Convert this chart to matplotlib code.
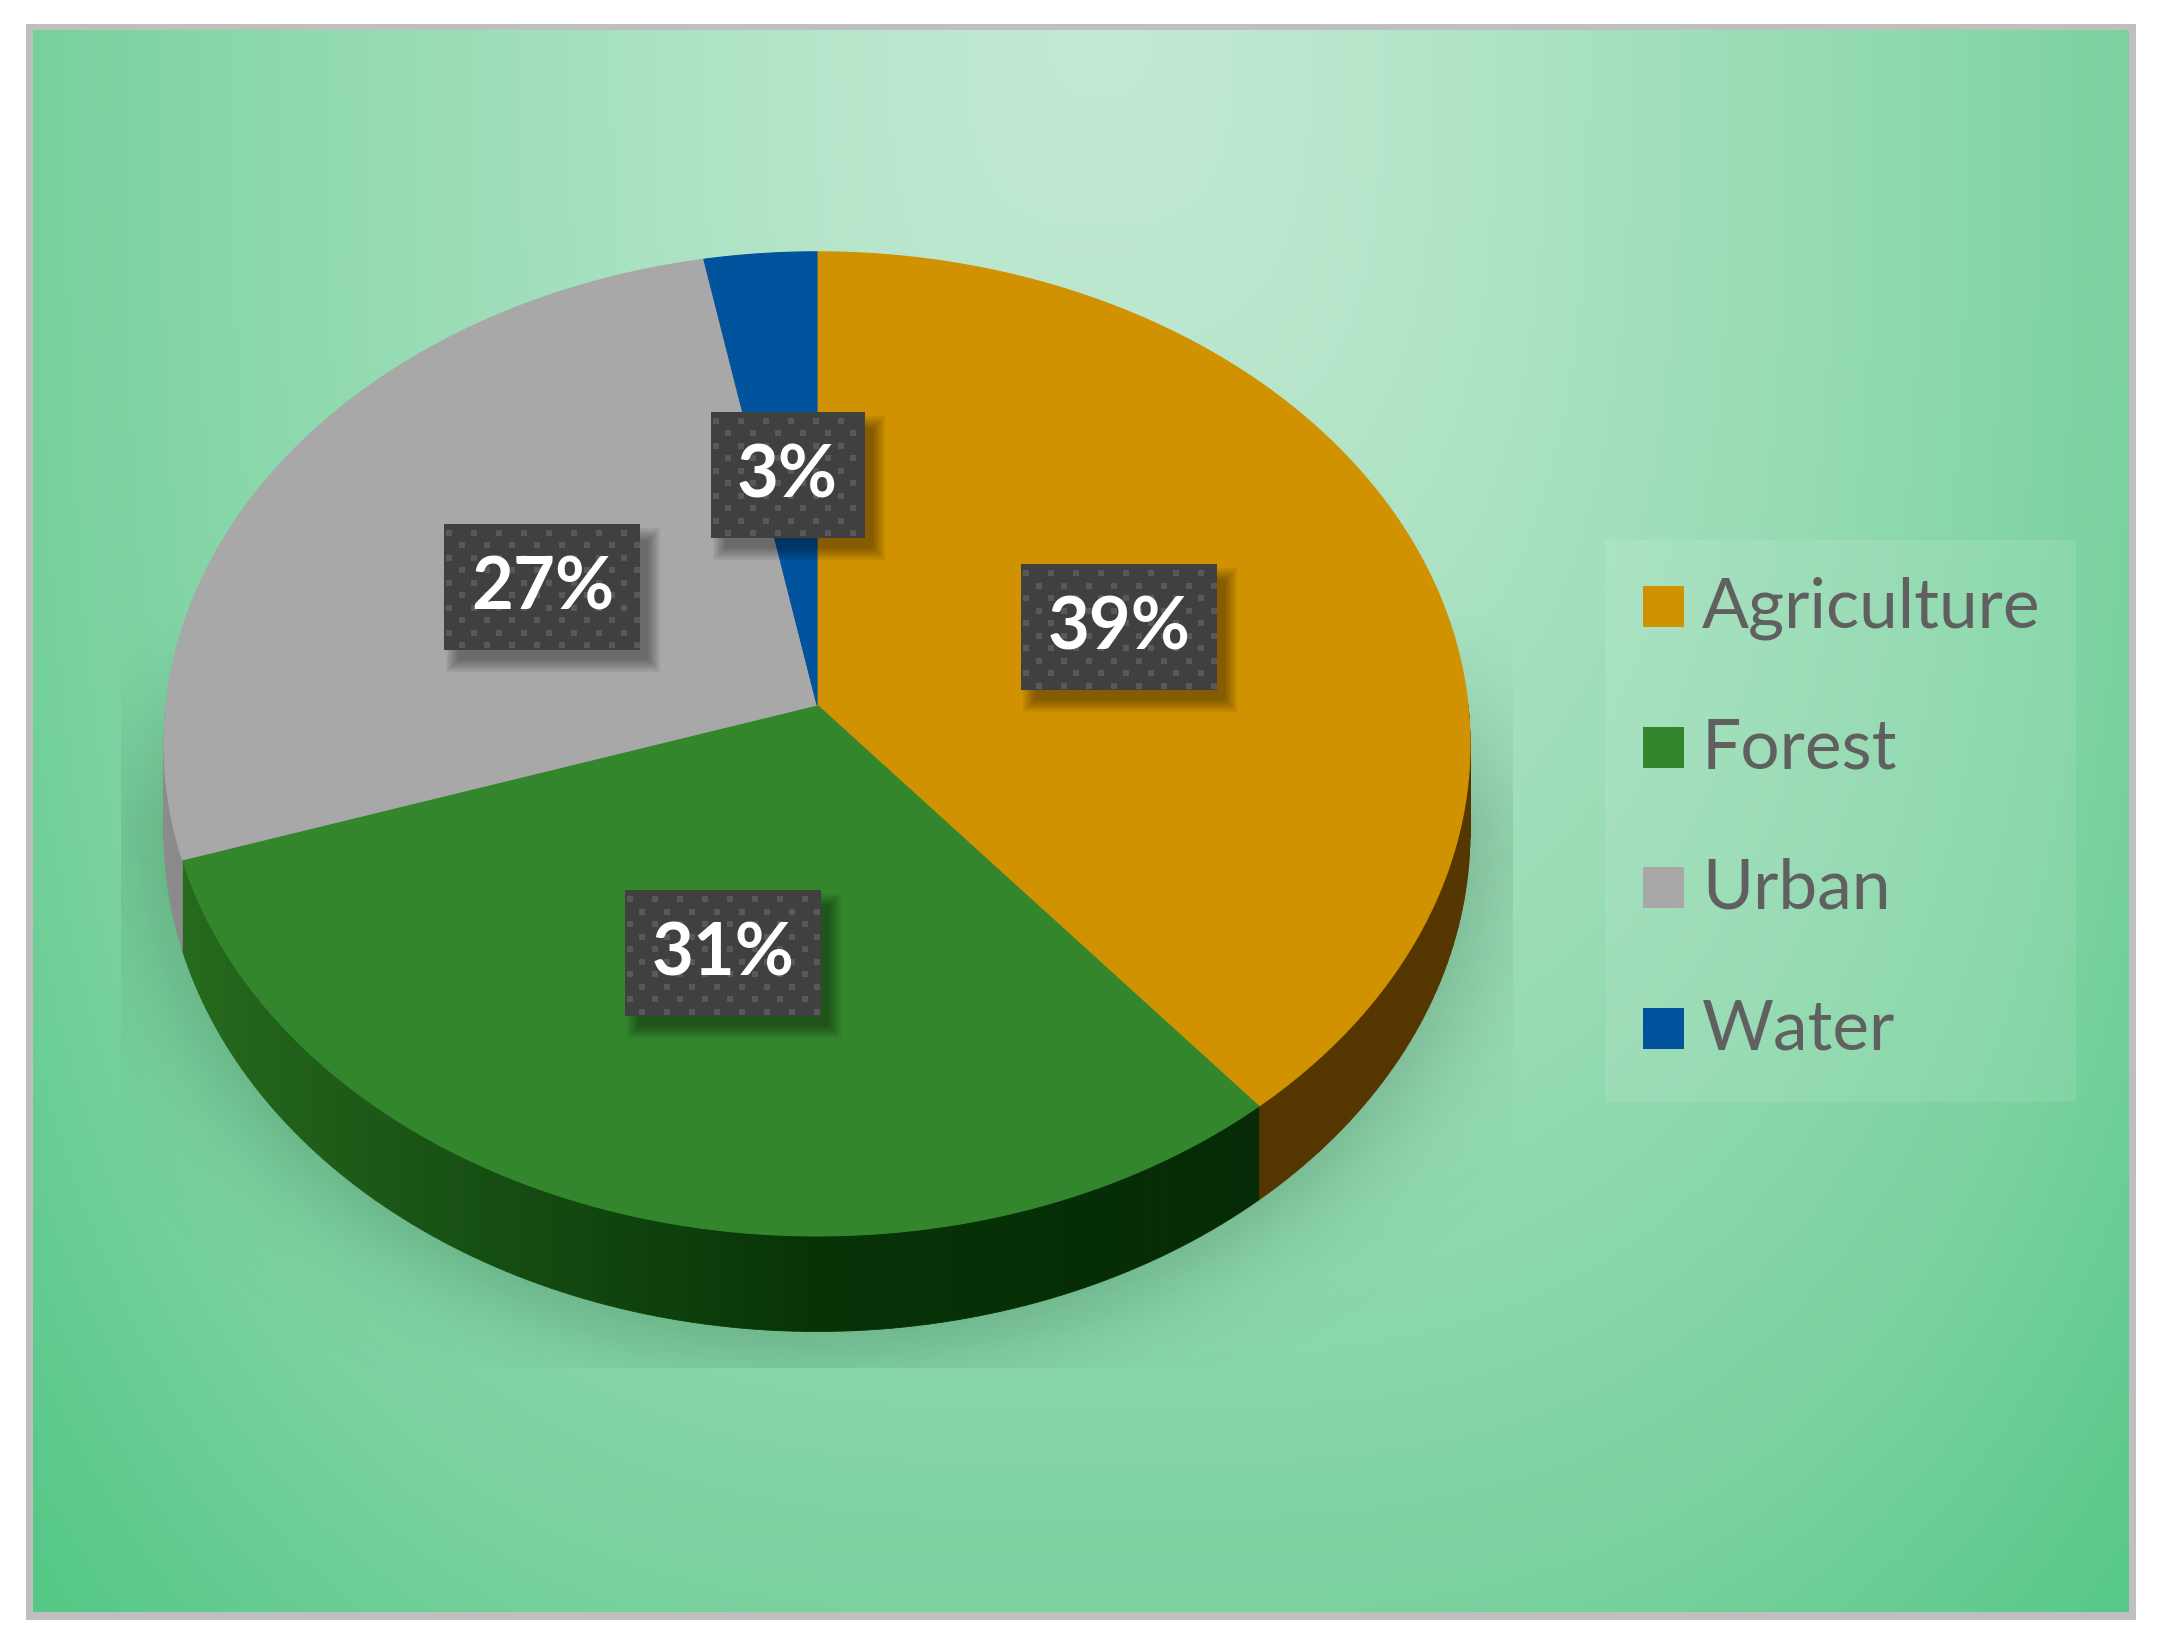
import numpy as np
import matplotlib.pyplot as plt
from matplotlib.patches import Polygon, Rectangle
from matplotlib.collections import PolyCollection
from matplotlib.colors import to_rgb

# land use shares (%)
categories = ["Agriculture", "Forest", "Urban", "Water"]
shares = [39, 31, 27, 3]
top_colors = ["#d09200", "#33862c", "#a8a8a8", "#00539c"]
side_light = ["#553600", "#286d1f", "#8c8c8c", "#00447f"]
side_dark = ["#553600", "#073307", "#5a5a5a", "#00447f"]

W, H = 2160, 1646
fig = plt.figure(figsize=(W / 100, H / 100), dpi=100)
ax = fig.add_axes([0, 0, 1, 1])

# frame + background gradient
ax.add_patch(Rectangle((26, 24), 2110, 1596, facecolor="#bfbfbf", lw=0, zorder=0))
X, Y = np.meshgrid(np.linspace(33, 2129, 420), np.linspace(30, 1612, 330))
h = np.abs(X - 1100) / 1040
v = (Y - 20) / 1600
t = (h ** 3 + v ** 3) ** (1 / 3)
light = np.array(to_rgb("#c3ead4"))
mid = np.array(to_rgb("#7ad29f"))
dark = np.array(to_rgb("#55c886"))
t1 = np.clip(t, 0, 1)[..., None] ** 1.3
t2 = np.clip((t - 1) / 0.26, 0, 1)[..., None]
bg = light + (mid - light) * t1 + (dark - mid) * t2
ax.imshow(bg, extent=(33, 2129, 1612, 30), interpolation="bicubic",
          aspect="auto", zorder=1)

# soft shadow behind the pie
sx, sy = np.meshgrid(np.linspace(121, 1513, 300), np.linspace(606, 1368, 220))
d = np.sqrt(((sx - 817) / 700) ** 2 + ((sy - 815) / 560) ** 2)
sh = np.zeros(sx.shape + (4,))
sh[..., :3] = (0.06, 0.25, 0.12)
fade = np.clip((sy - 606) / 220, 0, 1)
sh[..., 3] = 0.30 * fade / (1 + np.exp((d - 0.96) / 0.05))
ax.imshow(sh, extent=(121, 1513, 1368, 606), interpolation="bicubic",
          aspect="auto", zorder=2)

# pie geometry (perspective tilted disc)
cx, cy = 817, 705
R, RY, K, DEPTH = 651, 489, 0.079, 88


def proj(theta, r=1.0, z=0.0):
    u = r * np.sin(theta)
    v = -r * np.cos(theta)
    f = 1 / (1 - K * v)
    return cx + R * u * f, cy + RY * v * f + z * f


bounds = 2 * np.pi * np.concatenate([[0], np.cumsum(shares)]) / sum(shares)

# side walls (front half only)
quads, qcols = [], []
for i in range(len(shares)):
    a0 = max(bounds[i], np.pi / 2)
    a1 = min(bounds[i + 1], 3 * np.pi / 2)
    if a1 <= a0:
        continue
    th = np.linspace(a0, a1, max(3, int(np.degrees(a1 - a0))))
    cl = np.array(to_rgb(side_light[i]))
    cd = np.array(to_rgb(side_dark[i]))
    shaded = side_light[i] != side_dark[i]
    for j in range(len(th) - 1):
        x0, y0 = proj(th[j])
        x1, y1 = proj(th[j + 1])
        x2, y2 = proj(th[j + 1], z=DEPTH)
        x3, y3 = proj(th[j], z=DEPTH)
        quads.append([(x0, y0), (x1, y1), (x2, y2), (x3, y3)])
        u = np.sin(0.5 * (th[j] + th[j + 1]))
        w = np.clip(-u, 0, 1)
        c = cd + (cl - cd) * w
        if shaded and u > 0:
            c = c * (1 - 0.25 * u)
        qcols.append(np.clip(c, 0, 1))
ax.add_collection(PolyCollection(quads, facecolors=qcols, edgecolors=qcols,
                                 linewidths=0.6, zorder=3))

# top faces
for i in range(len(shares)):
    th = np.linspace(bounds[i], bounds[i + 1], 200)
    xs, ys = proj(th)
    pts = [(cx, cy)] + list(zip(xs, ys))
    ax.add_patch(Polygon(pts, closed=True, facecolor=top_colors[i],
                         edgecolor=top_colors[i], lw=0.8, zorder=4))

# data labels
fig.canvas.draw()
renderer = fig.canvas.get_renderer()
for i in range(len(shares)):
    angle = 0.5 * (bounds[i] + bounds[i + 1])
    lx, ly = proj(angle, r=0.5)
    ly += 4
    txt = ax.text(lx, ly + 2, f"{shares[i]}%", ha="center", va="center",
                  color="white", fontsize=52, fontweight="bold",
                  family="Lato", zorder=9)
    bb = txt.get_window_extent(renderer)
    bw = bb.width + 53
    bh = 126
    bx, by = lx - bw / 2, ly - bh / 2
    # blurred drop shadow, bottom-right
    for k in range(7):
        g = 2.0 * k
        ax.add_patch(Rectangle((bx + 14 - g, by + 16 - g), bw + 2 * g - 6,
                               bh + 2 * g - 6, facecolor="black", alpha=0.06,
                               lw=0, zorder=6))
    ax.add_patch(Rectangle((bx, by), bw, bh, facecolor="#404040", lw=0, zorder=7))
    dots = []
    for row in range(int(bh / 12.5) + 1):
        yy = by + 9 + row * 12.5
        xstart = bx + 5 + (12.5 if row % 2 else 0)
        for xx in np.arange(xstart, bx + bw - 2, 25):
            if yy < by + bh - 2:
                dots.append((xx, yy))
    dots = np.array(dots)
    ax.scatter(dots[:, 0], dots[:, 1], marker="s", s=13, c="#595959",
               linewidths=0, zorder=8)

# legend
ax.add_patch(Rectangle((1605, 540), 471, 562, facecolor="white", alpha=0.1,
                       lw=0, zorder=5))
for i, name in enumerate(categories):
    ycen = 607 + i * 140.5
    ax.add_patch(Rectangle((1643, ycen - 21), 41, 41, facecolor=top_colors[i],
                           lw=0, zorder=6))
    ax.text(1702, ycen + 1, name, ha="left", va="center", color="#606060",
            fontsize=50, family="Lato", zorder=6)

ax.set_xlim(0, W)
ax.set_ylim(H, 0)
ax.axis("off")
fig.savefig("out.png", dpi=100, facecolor="white")
